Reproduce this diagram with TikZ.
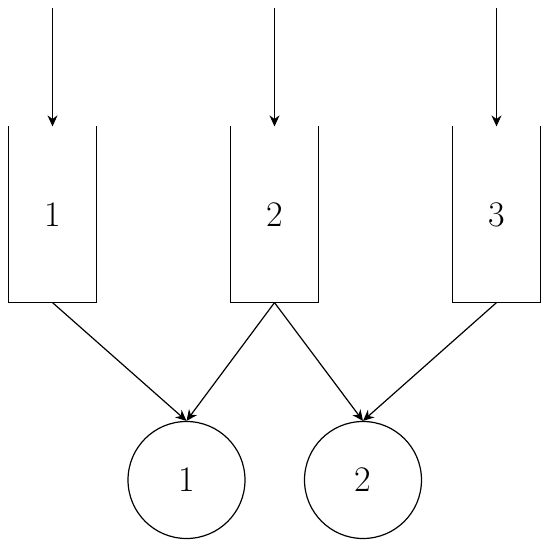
\documentclass[tikz,border=0pt]{standalone}
\usepackage{tikz}
\usetikzlibrary{arrows.meta}

\begin{document}
\begin{tikzpicture}[x=1pt,y=-1pt,line width=1.2pt,
  queue/.style={rectangle,minimum width=87pt,minimum height=175pt,inner sep=0pt,font=\fontsize{36}{40}\selectfont},
  server/.style={draw,circle,minimum size=117pt,inner sep=0pt,font=\fontsize{36}{40}\selectfont},
  arr/.style={-{Stealth[length=11pt,width=10pt]}}]
\useasboundingbox (0,0) rectangle (550,549);
\node[queue] (q1) at (52.5,214.5) {1};
\node[queue] (q2) at (274.5,214.5) {2};
\node[queue] (q3) at (496.5,214.5) {3};
\node[server] (s1) at (186.5,480) {1};
\node[server] (s2) at (363,480) {2};
\foreach \q in {q1,q2,q3}
  \draw (\q.north west) -- (\q.south west) -- (\q.south east) -- (\q.north east);
\coordinate (in1) at (52.5,8);
\coordinate (in2) at (274.5,8);
\coordinate (in3) at (496.5,8);
\draw[arr] (in1) -- (q1.north);
\draw[arr] (in2) -- (q2.north);
\draw[arr] (in3) -- (q3.north);
\draw[arr] (q1.south) -- (s1.north);
\draw[arr] (q2.south) -- (s1.north);
\draw[arr] (q2.south) -- (s2.north);
\draw[arr] (q3.south) -- (s2.north);
\end{tikzpicture}
\end{document}
